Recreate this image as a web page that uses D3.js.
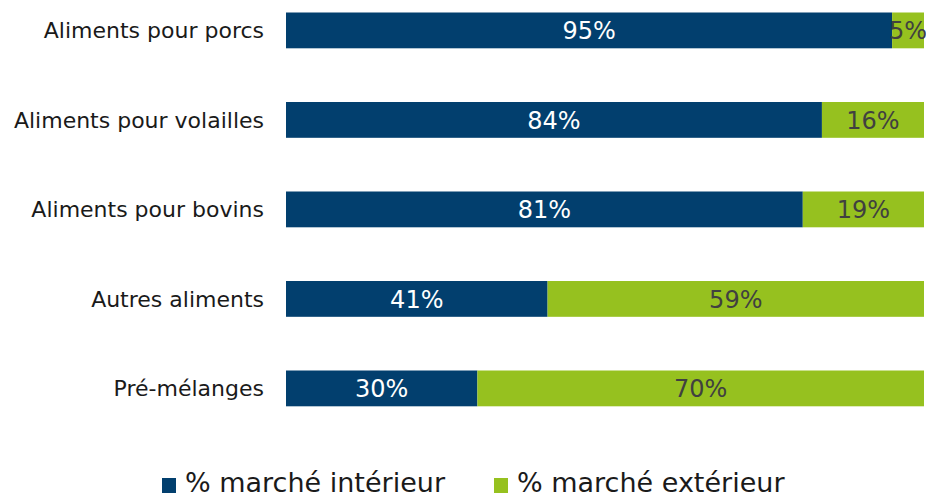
<!DOCTYPE html>
<html>
  <head>
    <meta charset="utf-8">
    <title>Marché intérieur / extérieur</title>
    <script src="https://cdn.jsdelivr.net/npm/d3@7"></script>
    <style>
      body { margin: 0; background: #fff; }
      svg { display: block; font-family: "DejaVu Sans", sans-serif; }
      .cat { font-size: 22px; fill: #1a1a1a; }
      .val { font-size: 24px; }
      .leg { font-size: 27px; fill: #1a1a1a; }
    </style>
  </head>
  <body>
    <svg id="chart" width="926" height="499"></svg>
    <script>
      // data
      categories = ["Aliments pour porcs", "Aliments pour volailles", "Aliments pour bovins", "Autres aliments", "Pré-mélanges"];
      interieur = [95, 84, 81, 41, 30];
      exterieur = [5, 16, 19, 59, 70];
      seriesNames = ["% marché intérieur", "% marché extérieur"];
      colors = ["#023f6e", "#96c11f"];
      textColors = ["#ffffff", "#404040"];

      chart = d3.select("#chart");

      x = d3.scaleLinear()
        .domain([0, 100])
        .range([286, 924]);
      y = d3.scaleBand()
        .domain(categories)
        .range([-14.35, 433.15])
        .paddingInner(0.6)
        .paddingOuter(0.3);

      rows = categories.map(function(c, i) {
        return { cat: c, values: [interieur[i], exterieur[i]] };
      });

      // category labels
      chart.selectAll(".cat")
        .data(rows)
        .join("text")
          .attr("class", "cat")
          .attr("x", 264)
          .attr("y", function(d) { return y(d.cat) + y.bandwidth() / 2; })
          .attr("dy", "0.36em")
          .attr("text-anchor", "end")
          .text(function(d) { return d.cat; });

      // bars
      rows.forEach(function(r) {
        start = 0;
        r.values.forEach(function(v, j) {
          chart.append("rect")
            .attr("x", x(start))
            .attr("y", y(r.cat))
            .attr("width", x(start + v) - x(start))
            .attr("height", y.bandwidth())
            .attr("fill", colors[j]);
          chart.append("text")
            .attr("class", "val")
            .attr("x", x(start + v / 2))
            .attr("y", y(r.cat) + y.bandwidth() / 2)
            .attr("dy", "0.37em")
            .attr("text-anchor", "middle")
            .attr("fill", textColors[j])
            .text(v + "%");
          start += v;
        });
      });

      // legend
      legendX = [162, 494];
      seriesNames.forEach(function(name, j) {
        chart.append("rect")
          .attr("x", legendX[j])
          .attr("y", 478)
          .attr("width", 14)
          .attr("height", 15)
          .attr("fill", colors[j]);
        chart.append("text")
          .attr("class", "leg")
          .attr("x", legendX[j] + 23)
          .attr("y", 492)
          .text(name);
      });
    </script>
  </body>
</html>
